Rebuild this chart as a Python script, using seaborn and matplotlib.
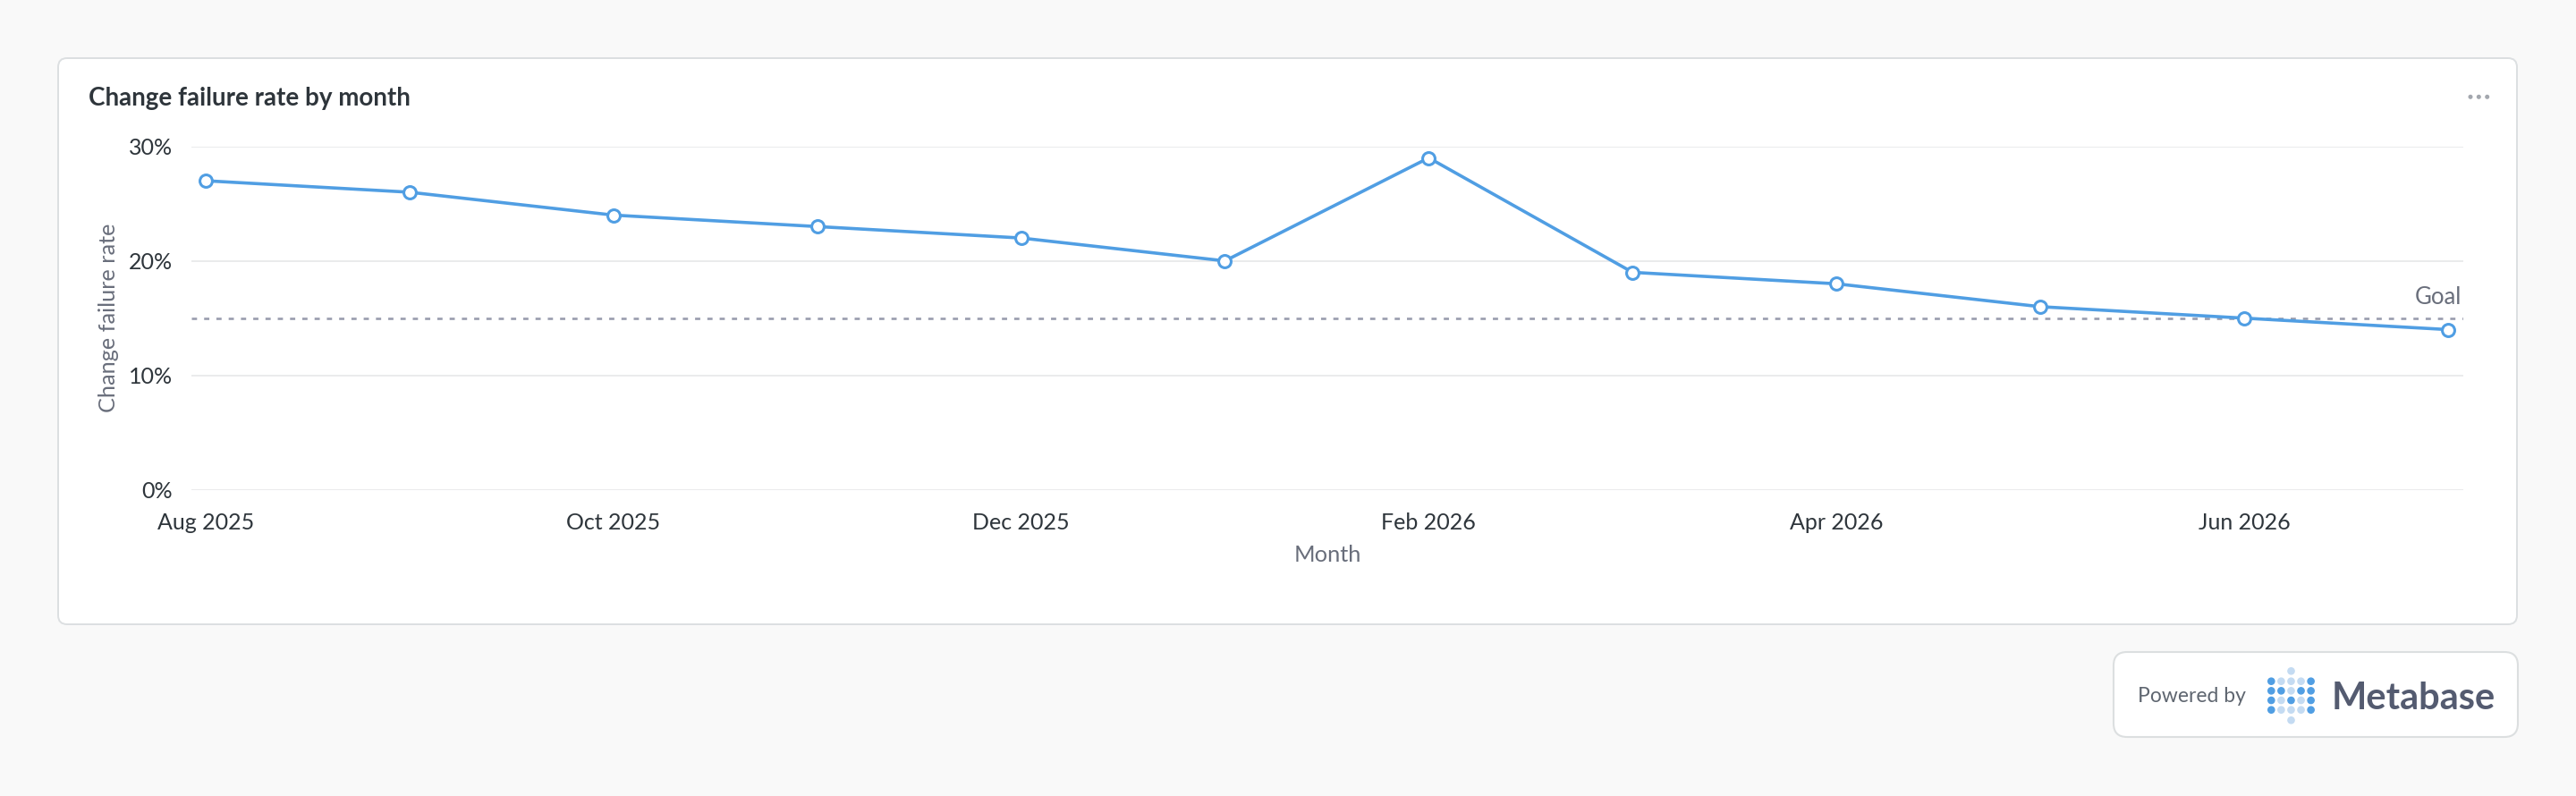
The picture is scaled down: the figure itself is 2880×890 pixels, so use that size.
import matplotlib
matplotlib.use("Agg")
import matplotlib.pyplot as plt
from matplotlib.patches import FancyBboxPatch, Circle
from matplotlib.ticker import FuncFormatter
import numpy as np
import pandas as pd
import seaborn as sns

# data
months = ["Aug 2025", "Sep 2025", "Oct 2025", "Nov 2025", "Dec 2025", "Jan 2026",
          "Feb 2026", "Mar 2026", "Apr 2026", "May 2026", "Jun 2026", "Jul 2026"]
failure_rate = [27, 26, 24, 23, 22, 20, 29, 19, 18, 16, 15, 14]
goal = 15
y_ticks = [0, 10, 20, 30]
x_tick_labels = ["Aug 2025", "Oct 2025", "Dec 2025", "Feb 2026", "Apr 2026", "Jun 2026"]

df = pd.DataFrame({"month": months,
                   "month_idx": np.arange(len(months)),
                   "rate": failure_rate})

W, H = 2880, 890
BLUE = "#509ee3"
DARK = "#2e353b"
GREY = "#696e7b"
FS = 18

sns.set_theme(style="white")
plt.rcParams["font.family"] = ["Lato", "DejaVu Sans"]

fig = plt.figure(figsize=(W / 100, H / 100), dpi=100, facecolor="#f9f9f9")

# page layer, pixel coordinates (y down)
bg = fig.add_axes([0, 0, 1, 1], zorder=0)
bg.set_xlim(0, W)
bg.set_ylim(H, 0)
bg.axis("off")

bg.add_patch(FancyBboxPatch((65, 65), 2749, 633, boxstyle="round,pad=0,rounding_size=10",
                            fc="white", ec="#dcdfe1", lw=1.4))
bg.text(99, 118, "Change failure rate by month", fontsize=20, fontweight="bold",
        color=DARK, ha="left", va="baseline")
for x in (2762, 2771.3, 2780.7):
    bg.add_patch(Circle((x, 108.3), 1.8, color="#a3a7ae"))

# powered by badge
bg.add_patch(FancyBboxPatch((2363, 729), 452, 95, boxstyle="round,pad=0,rounding_size=15",
                            fc="white", ec="#dcdfe0", lw=1.5))
bg.text(2390, 785, "Powered by", fontsize=16.5, color="#5f6670", ha="left", va="baseline")
logo = ["DLLLD", "DDLDD", "DLDLD", "DLLLD"]
for r, row in enumerate(logo):
    for c, ch in enumerate(row):
        col = BLUE if ch == "D" else "#c4dbf2"
        bg.add_patch(Circle((2539.3 + c * 11.08, 761.7 + r * 10.67), 3.6, color=col))
bg.add_patch(Circle((2561.5, 750.3), 3.6, color="#c4dbf2"))
bg.add_patch(Circle((2561.5, 805.3), 3.6, color="#c4dbf2"))
bg.text(2606.7, 792.7, "Metabase", fontsize=30, fontweight="bold", color="#545b70",
        ha="left", va="baseline")

# chart
ax = fig.add_axes([214 / W, 1 - 547.7 / H, 2540 / W, 384 / H], zorder=1)
ax.set_facecolor("none")

sns.lineplot(data=df, x="month_idx", y="rate", ax=ax, color=BLUE, linewidth=2.6,
             marker="o", markersize=10, markerfacecolor="white", markeredgecolor=BLUE,
             markeredgewidth=2.2, clip_on=False, zorder=3)

ax.axhline(goal, color="#999dae", lw=1.9, ls=(0, (2.2, 3.0)), zorder=2)
ax.annotate("Goal", xy=(1, goal), xycoords=ax.get_yaxis_transform(),
            xytext=(-1, 11.3), textcoords="offset points",
            ha="right", va="baseline", fontsize=18.5, color=GREY)

ax.set_xlim(-0.07, len(months) - 1 + 0.075)
ax.set_ylim(0, 30)
ax.set_yticks(y_ticks)
ax.yaxis.set_major_formatter(FuncFormatter(lambda v, p: f"{v:.0f}%"))
ax.set_xticks([months.index(m) for m in x_tick_labels])
ax.set_xticklabels(x_tick_labels)

ax.yaxis.grid(True, color="#e8e9ea", lw=1.3)
ax.xaxis.grid(False)
ax.set_axisbelow(True)
sns.despine(ax=ax, left=True, bottom=True)

ax.tick_params(axis="both", length=0, labelsize=FS, labelcolor=DARK)
ax.tick_params(axis="y", pad=15)
ax.tick_params(axis="x", pad=18)

ax.set_ylabel("Change failure rate", fontsize=18.2, color=GREY)
ax.yaxis.set_label_coords((133 - 214) / 2540, 0.5)
ax.set_xlabel("Month", fontsize=18.3, color=GREY)
ax.xaxis.set_label_coords(0.5, (547.7 - 609.5) / 384)

fig.savefig("out.png", dpi=100, facecolor=fig.get_facecolor())
